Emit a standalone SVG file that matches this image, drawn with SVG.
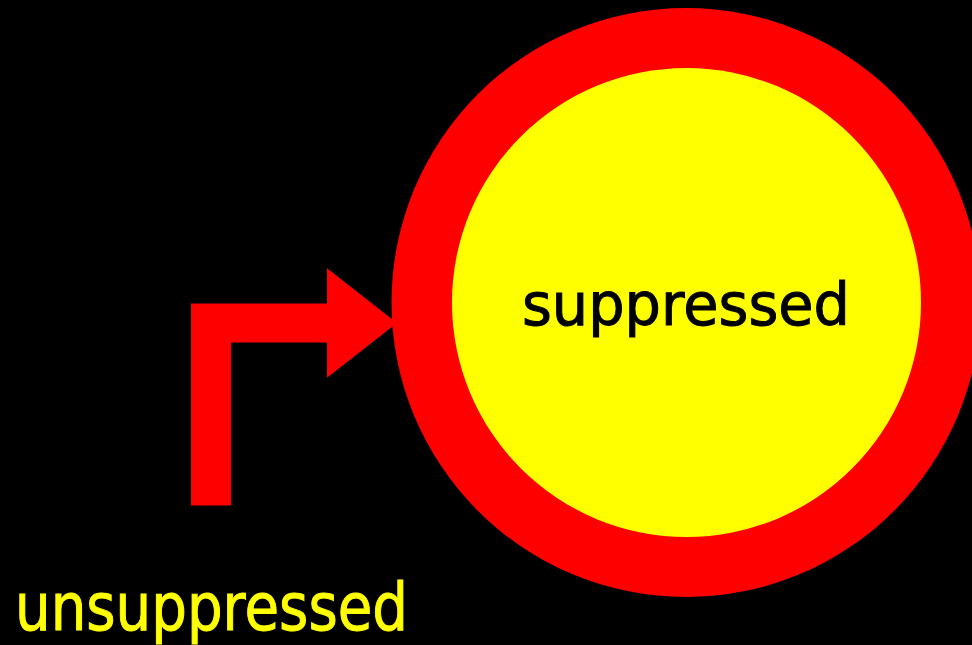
<svg xmlns="http://www.w3.org/2000/svg" width="972" height="645" viewBox="0 0 972 645">
<style>
.lbl{font-family:"DejaVu Sans","Noto Sans",sans-serif;stroke-width:1;}
</style>
<rect x="0" y="0" width="972" height="645" fill="#000"/>
<g id="node-suppressed">
<circle cx="686" cy="302.5" r="294.5" fill="#ff0000"/>
<circle cx="686.5" cy="302.5" r="234.5" fill="#ffff00"/>
<text class="lbl" x="522" y="325" font-size="58" fill="#000" stroke="#000" textLength="328" lengthAdjust="spacingAndGlyphs">suppressed</text>
</g>
<g id="node-unsuppressed">
<text class="lbl" x="15" y="630" font-size="66" fill="#ffff00" stroke="#ffff00" textLength="393" lengthAdjust="spacingAndGlyphs">unsuppressed</text>
</g>
<g id="connectors">
<polygon points="191,505.5 231,505.5 231,342.5 327,342.5 327,377.7 397,323 327,268.3 327,303.5 191,303.5" fill="#ff0000"/>
</g>
</svg>
